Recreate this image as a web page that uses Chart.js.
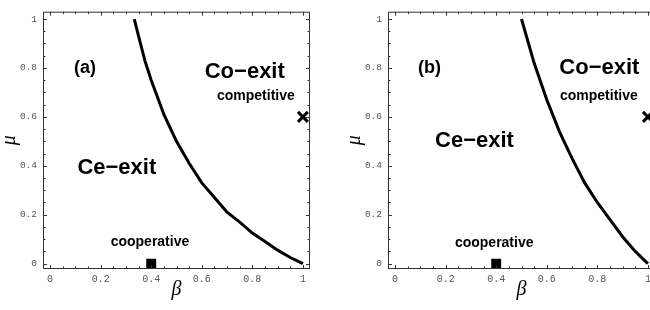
<!DOCTYPE html>
<html>
<head>
<meta charset="utf-8">
<script src="https://cdn.jsdelivr.net/npm/chart.js@4.4.0/dist/chart.umd.min.js"></script>
<style>
  html, body { margin: 0; padding: 0; background: #fff; }
  #wrap { position: relative; width: 650px; height: 310px; overflow: hidden; }
  .panel { position: absolute; top: 0; width: 325px; height: 310px; }
  #panelA { left: 0; }
  #panelB { left: 345px; }
</style>
</head>
<body>
<div id="wrap">
  <div class="panel" id="panelA"><canvas id="chartA"></canvas></div>
  <div class="panel" id="panelB"><canvas id="chartB"></canvas></div>
</div>
<script>
const TICK_VALUES = [0, 0.2, 0.4, 0.6, 0.8, 1];

// boundary between Ce-exit and Co-exit, panel (a)
const betaA = [0.333, 0.35, 0.375, 0.4, 0.425, 0.45, 0.5, 0.55, 0.6, 0.65, 0.7, 0.75, 0.8, 0.85, 0.9, 0.95, 1.0];
const muA   = [1.0, 0.93, 0.83, 0.75, 0.68, 0.61, 0.5, 0.41, 0.33, 0.27, 0.21, 0.17, 0.125, 0.09, 0.055, 0.025, 0.0];

// panel (b)
const betaB = [0.5, 0.55, 0.6, 0.65, 0.7, 0.75, 0.8, 0.85, 0.9, 0.95, 1.0];
const muB   = [1.0, 0.82, 0.67, 0.54, 0.43, 0.33, 0.25, 0.18, 0.11, 0.05, 0.0];

// marked points (beta, mu)
const cooperativePt = [0.4, 0];
const competitivePt = [1, 0.6];

// region labels: text, beta, mu, font size
const labelsA = [
  ['(a)', 0.138, 0.8, 18],
  ['Co\u2212exit', 0.77, 0.785, 22],
  ['competitive', 0.814, 0.686, 14],
  ['Ce\u2212exit', 0.264, 0.39, 22],
  ['cooperative', 0.395, 0.089, 14]
];
const labelsB = [
  ['(b)', 0.136, 0.8, 18],
  ['Co\u2212exit', 0.808, 0.8, 22],
  ['competitive', 0.806, 0.686, 14],
  ['Ce\u2212exit', 0.314, 0.5, 22],
  ['cooperative', 0.392, 0.083, 14]
];

// frame with inward ticks on all four sides (Mathematica style)
const frameTicks = {
  id: 'frameTicks',
  afterDraw(chart) {
    const { ctx, chartArea: a, scales: { x, y } } = chart;
    ctx.save();
    ctx.strokeStyle = '#333';
    ctx.lineWidth = 1;
    ctx.strokeRect(a.left + 0.5, a.top + 0.5, a.right - a.left - 1, a.bottom - a.top - 1);
    ctx.beginPath();
    for (let i = 0; i <= 20; i++) {
      const v = i / 20;
      const len = i % 4 === 0 ? 4 : 2.5;
      const px = Math.round(x.getPixelForValue(v)) + 0.5;
      const py = Math.round(y.getPixelForValue(v)) + 0.5;
      ctx.moveTo(px, a.bottom); ctx.lineTo(px, a.bottom - len);
      ctx.moveTo(px, a.top); ctx.lineTo(px, a.top + len);
      ctx.moveTo(a.left, py); ctx.lineTo(a.left + len, py);
      ctx.moveTo(a.right, py); ctx.lineTo(a.right - len, py);
    }
    ctx.stroke();
    ctx.restore();
  }
};

const regionText = {
  id: 'regionText',
  afterDatasetsDraw(chart, args, opts) {
    const { ctx, scales: { x, y } } = chart;
    ctx.save();
    ctx.fillStyle = '#000';
    ctx.textAlign = 'center';
    ctx.textBaseline = 'middle';
    opts.items.forEach(([text, b, m, size]) => {
      ctx.font = 'bold ' + size + 'px "Liberation Sans", Arial, sans-serif';
      ctx.fillText(text, x.getPixelForValue(b), y.getPixelForValue(m));
    });
    ctx.restore();
  }
};

function makeChart(id, betas, mus, labels) {
  return new Chart(document.getElementById(id), {
    type: 'scatter',
    data: {
      datasets: [{
        data: betas.map((b, i) => ({ x: b, y: mus[i] })),
        showLine: true,
        borderColor: '#000',
        borderWidth: 3,
        pointRadius: 0,
        tension: 0
      }, {
        data: [{ x: cooperativePt[0], y: cooperativePt[1] }],
        pointStyle: 'rect',
        pointRadius: 7,
        backgroundColor: '#000',
        borderColor: '#000',
        borderWidth: 0
      }, {
        data: [{ x: competitivePt[0], y: competitivePt[1] }],
        pointStyle: 'crossRot',
        pointRadius: 7,
        borderColor: '#000',
        borderWidth: 3
      }]
    },
    options: {
      responsive: true,
      maintainAspectRatio: false,
      animation: false,
      layout: { padding: { top: 2, right: 15, left: 0, bottom: 0 } },
      plugins: {
        legend: { display: false },
        tooltip: { enabled: false },
        regionText: { items: labels }
      },
      scales: {
        x: {
          type: 'linear',
          min: -0.028,
          max: 1.028,
          afterBuildTicks: s => { s.ticks = TICK_VALUES.map(v => ({ value: v })); },
          afterFit: s => { s.height = 41; },
          grid: { display: false, drawTicks: false },
          border: { display: false },
          ticks: {
            font: { family: '"Liberation Mono", monospace', size: 10 },
            color: '#555',
            padding: 4,
            maxRotation: 0,
            callback: v => String(v)
          },
          title: {
            display: true,
            text: '\u03b2',
            color: '#000',
            font: { family: '"Liberation Serif", serif', style: 'italic', size: 20 },
            padding: { top: 0, bottom: 8 }
          }
        },
        y: {
          type: 'linear',
          min: -0.022,
          max: 1.03,
          afterBuildTicks: s => { s.ticks = TICK_VALUES.map(v => ({ value: v })); },
          afterFit: s => { s.width = 43; },
          grid: { display: false, drawTicks: false },
          border: { display: false },
          ticks: {
            font: { family: '"Liberation Mono", monospace', size: 9.5 },
            color: '#555',
            padding: 6,
            callback: v => String(v)
          },
          title: {
            display: true,
            text: '\u03bc',
            color: '#000',
            font: { family: '"Liberation Serif", serif', style: 'italic', size: 20, lineHeight: 1 },
            padding: { top: 0, bottom: 0 }
          }
        }
      }
    },
    plugins: [frameTicks, regionText]
  });
}

makeChart('chartA', betaA, muA, labelsA);
makeChart('chartB', betaB, muB, labelsB);
</script>
</body>
</html>
